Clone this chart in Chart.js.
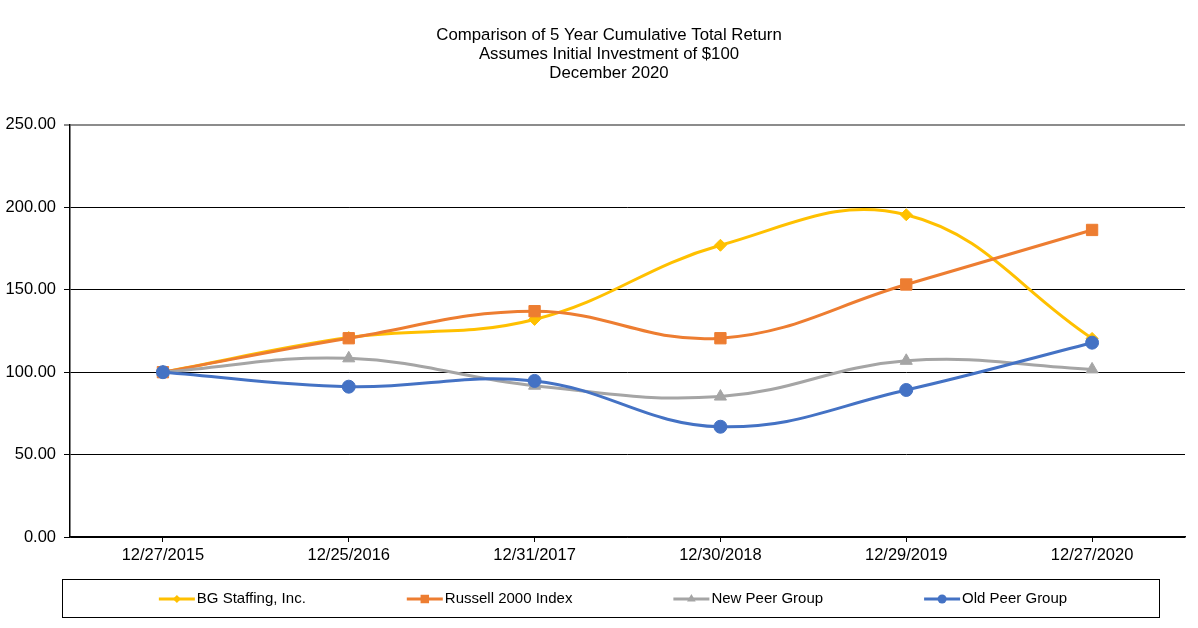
<!DOCTYPE html>
<html>
<head>
<meta charset="utf-8">
<script src="https://cdn.jsdelivr.net/npm/chart.js@4.4.1/dist/chart.umd.min.js"></script>
<style>
  html, body { margin: 0; padding: 0; background: #fff; }
</style>
</head>
<body>
<canvas id="chart" width="1198" height="628"></canvas>
<script>
const categories = ["12/27/2015", "12/25/2016", "12/31/2017", "12/30/2018", "12/29/2019", "12/27/2020"];
const bgStaffing = [100, 121, 132, 177, 195.5, 120.5];
const russell2000 = [100, 120.6, 137, 120.6, 153.2, 186.3];
const newPeerGroup = [100, 108.4, 91.8, 85.2, 106.9, 101.7];
const oldPeerGroup = [100, 91.2, 94.7, 66.9, 89.2, 117.9];
const yTicks = [0, 50, 100, 150, 200, 250];
const titleLines = ["Comparison of 5 Year Cumulative Total Return", "Assumes Initial Investment of $100", "December 2020"];

const FONT = "'Liberation Sans', Arial, sans-serif";

function series(label, data, color, style, radius, legendRadius, order) {
  return {
    label, data, order,
    borderColor: color,
    backgroundColor: color,
    pointBackgroundColor: color,
    pointBorderColor: color,
    pointBorderWidth: 1,
    pointStyle: style,
    pointRadius: radius,
    legendRadius: legendRadius,
    borderWidth: 3,
    tension: 0.4,
    fill: false
  };
}

// title is centred over the plot + axis area, not the whole canvas
const shiftTitle = {
  id: "shiftTitle",
  afterLayout(chart) {
    if (chart.titleBlock) chart.titleBlock.left = 33;
  }
};

// legend in a box, drawn by hand so the items can be spread out
const boxLegend = {
  id: "boxLegend",
  afterDraw(chart) {
    const ctx = chart.ctx;
    ctx.save();
    ctx.strokeStyle = "#000";
    ctx.lineWidth = 1;
    ctx.strokeRect(62.5, 579.5, 1097, 38);
    ctx.font = "15px " + FONT;
    ctx.textBaseline = "middle";
    const sets = chart.data.datasets;
    const lineW = 36, gap = 101, y = 599;
    const widths = sets.map(d => lineW + 2 + ctx.measureText(d.label).width);
    const total = widths.reduce((a, b) => a + b, 0) + gap * (sets.length - 1);
    let x = 613 - total / 2;
    sets.forEach((d, i) => {
      ctx.strokeStyle = d.borderColor;
      ctx.lineWidth = 3;
      ctx.beginPath();
      ctx.moveTo(x, y);
      ctx.lineTo(x + lineW, y);
      ctx.stroke();
      ctx.fillStyle = d.pointBackgroundColor;
      Chart.helpers.drawPoint(ctx, { pointStyle: d.pointStyle, radius: d.legendRadius, rotation: 0, borderWidth: 0 }, x + lineW / 2, y);
      ctx.fillStyle = "#000";
      ctx.fillText(d.label, x + lineW + 2, y);
      x += widths[i] + gap;
    });
    ctx.restore();
  }
};

new Chart(document.getElementById("chart"), {
  type: "line",
  data: {
    labels: categories,
    datasets: [
      series("BG Staffing, Inc.", bgStaffing, "#FFC000", "rectRot", 6, 4, 4),
      series("Russell 2000 Index", russell2000, "#ED7D31", "rect", 8, 6, 3),
      series("New Peer Group", newPeerGroup, "#A5A5A5", "triangle", 7, 5, 2),
      series("Old Peer Group", oldPeerGroup, "#4472C4", "circle", 6.5, 4.5, 1)
    ]
  },
  options: {
    responsive: false,
    animation: false,
    layout: { padding: { left: 0, right: 13, top: 0, bottom: 0 } },
    plugins: {
      legend: { display: false },
      tooltip: { enabled: false },
      title: {
        display: true,
        text: titleLines,
        color: "#000",
        font: { family: FONT, size: 16.8, weight: "normal", lineHeight: 1.13 },
        padding: { top: 26, bottom: 42 }
      }
    },
    scales: {
      x: {
        offset: true,
        grid: { drawOnChartArea: false, drawTicks: true, tickLength: 5, color: "#000", lineWidth: 1, offset: false },
        border: { color: "#000", width: 1.5 },
        ticks: { color: "#000", font: { family: FONT, size: 16.5 }, padding: 4, maxRotation: 0, autoSkip: false },
        afterFit(s) { s.height = 91; }
      },
      y: {
        min: 0,
        max: 250,
        afterBuildTicks(s) { s.ticks = yTicks.map(v => ({ value: v })); },
        grid: {
          color: c => (c.tick && c.tick.value === 250 ? "#8c8c8c" : "#000"),
          lineWidth: c => (c.tick && c.tick.value === 250 ? 2 : 1),
          tickLength: 6
        },
        border: { color: "#000", width: 1.5 },
        ticks: { color: "#000", font: { family: FONT, size: 16.5 }, padding: 8, callback: v => v.toFixed(2) },
        afterFit(s) { s.width = 70; }
      }
    }
  },
  plugins: [shiftTitle, boxLegend]
});
</script>
</body>
</html>
